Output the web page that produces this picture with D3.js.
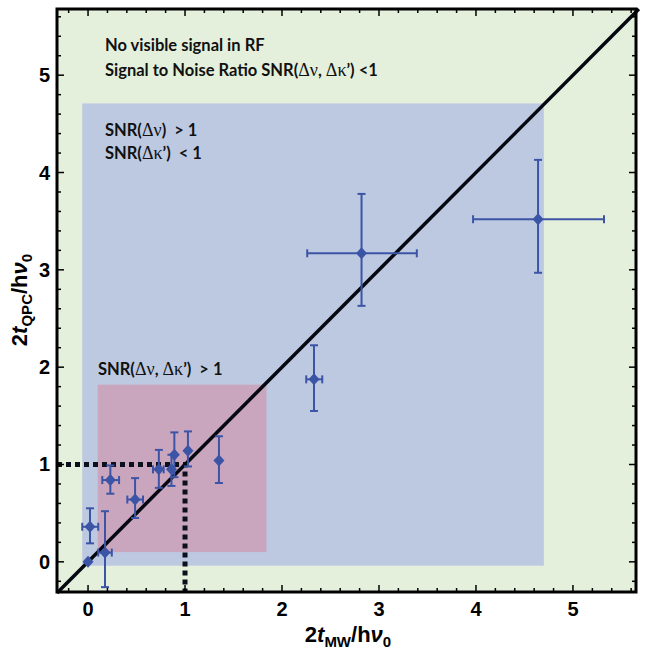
<!DOCTYPE html>
<html>
<head>
<meta charset="utf-8">
<script src="https://cdn.jsdelivr.net/npm/d3@7"></script>
<style>
  body { margin: 0; background: #fff; }
  svg text { font-family: "Liberation Sans", Arial, sans-serif; }
  .note { font-family: Lato, "Open Sans", sans-serif; font-weight: bold; font-size: 16.5px; fill: #111; }
  .greek { font-family: "Liberation Serif", "DejaVu Serif", serif; font-weight: normal; font-size: 18px; }
</style>
</head>
<body>
<svg id="chart" width="645" height="654"></svg>
<script>
// measured points (x = 2t_MW/hv0, y = 2t_QPC/hv0) with error bar ends
const xs  = [0.0, 0.02, 0.175, 0.23, 0.485, 0.73, 0.86, 0.89, 1.03, 1.35, 2.33, 2.82, 4.64];
const ys  = [0.0, 0.36, 0.095, 0.84, 0.64, 0.95, 0.95, 1.10, 1.14, 1.04, 1.875, 3.17, 3.52];
const yLo = [null, 0.19, -0.26, 0.70, 0.45, 0.76, 0.78, 0.87, 0.98, 0.81, 1.55, 2.63, 2.97];
const yHi = [null, 0.55, 0.52, 0.99, 0.86, 1.15, 1.10, 1.33, 1.34, 1.29, 2.225, 3.78, 4.13];
const xLo = [null, -0.06, 0.105, 0.147, 0.405, 0.67, null, null, null, null, 2.25, 2.26, 3.97];
const xHi = [null, 0.105, 0.245, 0.32, 0.567, 0.78, null, null, null, null, 2.415, 3.39, 5.32];

const tickVals = [0, 1, 2, 3, 4, 5];
// regions: [x0, x1, y0, y1]
const greenRegion = [-0.32, 5.65, -0.31, 5.68];
const blueRegion = [-0.06, 4.7, -0.04, 4.71];
const pinkRegion = [0.1, 1.84, 0.1, 1.82];
const threshold = 1;

const svg = d3.select("#chart");
const margin = { left: 57, right: 9, top: 9, bottom: 62 };
const W = 645, H = 654;

const x = d3.scaleLinear().domain([-0.32, 5.65]).range([margin.left, W - margin.right]);
const y = d3.scaleLinear().domain([-0.31, 5.68]).range([H - margin.bottom, margin.top]);

const rect = (r, fill) => svg.append("rect")
  .attr("x", x(r[0])).attr("y", y(r[3]))
  .attr("width", x(r[1]) - x(r[0])).attr("height", y(r[2]) - y(r[3]))
  .attr("fill", fill);

rect(greenRegion, "#e5f0dc");
rect(blueRegion, "#bdc9e1");
rect(pinkRegion, "#c9a6be");

// texts
const notes = [
  { x: 105, y: 51, t: "No visible signal in RF" },
  { x: 105, y: 76, t: "Signal to Noise Ratio SNR(\u0394\u03bd, \u0394\u03ba\u2019) <1" },
  { x: 105, y: 136, t: "SNR(\u0394\u03bd)  > 1" },
  { x: 105, y: 159, t: "SNR(\u0394\u03ba\u2019)  < 1" },
  { x: 98, y: 375, t: "SNR(\u0394\u03bd, \u0394\u03ba\u2019)  > 1" }
];
notes.forEach(n => {
  const t = svg.append("text").attr("class", "note")
    .attr("x", n.x).attr("y", n.y).attr("xml:space", "preserve");
  // greek letters are set in a serif face, like the math font of the original
  n.t.split(/([\u0394\u03bd\u03ba]+)/).filter(s => s.length).forEach(s => {
    const sp = t.append("tspan").text(s);
    if (/[\u0394\u03bd\u03ba]/.test(s)) sp.attr("class", "greek");
  });
});

// dashed threshold lines
svg.append("path")
  .attr("d", `M${x(-0.32)},${y(threshold)}H${x(threshold)}V${y(-0.31)}`)
  .attr("fill", "none")
  .attr("stroke", "#0c0f1c")
  .attr("stroke-width", 5)
  .attr("stroke-dasharray", "5,4");

// diagonal y = x
svg.append("line")
  .attr("x1", x(-0.32)).attr("y1", y(-0.32))
  .attr("x2", x(5.68)).attr("y2", y(5.68))
  .attr("stroke", "#050810").attr("stroke-width", 3.5);

// error bars
const col = "#3c54a5";
const idx = d3.range(xs.length);
const g = svg.append("g").attr("stroke", col).attr("stroke-width", 2).attr("fill", "none");
const cap = 4;
idx.forEach(i => {
  if (yLo[i] !== null) {
    g.append("line").attr("x1", x(xs[i])).attr("x2", x(xs[i])).attr("y1", y(yLo[i])).attr("y2", y(yHi[i]));
    [yLo[i], yHi[i]].forEach(v => g.append("line")
      .attr("x1", x(xs[i]) - cap).attr("x2", x(xs[i]) + cap).attr("y1", y(v)).attr("y2", y(v)));
  }
  if (xLo[i] !== null) {
    g.append("line").attr("y1", y(ys[i])).attr("y2", y(ys[i])).attr("x1", x(xLo[i])).attr("x2", x(xHi[i]));
    [xLo[i], xHi[i]].forEach(v => g.append("line")
      .attr("y1", y(ys[i]) - cap).attr("y2", y(ys[i]) + cap).attr("x1", x(v)).attr("x2", x(v)));
  }
});

// diamonds
svg.selectAll("path.pt").data(idx).join("path")
  .attr("class", "pt")
  .attr("transform", i => `translate(${x(xs[i])},${y(ys[i])})`)
  .attr("d", "M0,-6L5.5,0L0,6L-5.5,0Z")
  .attr("fill", col);

// axes: inward ticks on all sides
const minor = d3.range(-0.2, 5.61, 0.2).map(v => +v.toFixed(1)).filter(v => Math.abs(v - Math.round(v)) > 0.01);
const ax = svg.append("g").attr("stroke", "#000").attr("stroke-width", 1.5);
const x0 = x.range()[0], x1 = x.range()[1], y0 = y.range()[0], y1 = y.range()[1];
tickVals.concat(minor).forEach(v => {
  const len = tickVals.includes(v) ? 7 : 4;
  ax.append("line").attr("x1", x(v)).attr("x2", x(v)).attr("y1", y0).attr("y2", y0 - len);
  ax.append("line").attr("x1", x(v)).attr("x2", x(v)).attr("y1", y1).attr("y2", y1 + len);
  ax.append("line").attr("y1", y(v)).attr("y2", y(v)).attr("x1", x0).attr("x2", x0 + len);
  ax.append("line").attr("y1", y(v)).attr("y2", y(v)).attr("x1", x1).attr("x2", x1 - len);
});

svg.append("rect")
  .attr("x", x0).attr("y", y1).attr("width", x1 - x0).attr("height", y0 - y1)
  .attr("fill", "none").attr("stroke", "#000").attr("stroke-width", 3);

svg.selectAll("text.xt").data(tickVals).join("text")
  .attr("class", "xt")
  .attr("x", d => x(d)).attr("y", 616)
  .attr("text-anchor", "middle")
  .attr("font-weight", "bold").attr("font-size", 20)
  .text(d => d);

svg.selectAll("text.yt").data(tickVals).join("text")
  .attr("class", "yt")
  .attr("x", 50).attr("y", d => y(d) + 7)
  .attr("text-anchor", "end")
  .attr("font-weight", "bold").attr("font-size", 20)
  .text(d => d);

// axis titles
function title(sel, sub) {
  sel.attr("font-weight", "bold").attr("font-size", 22).attr("text-anchor", "middle");
  sel.append("tspan").text("2");
  sel.append("tspan").attr("font-style", "italic").text("t");
  sel.append("tspan").attr("font-size", 15).attr("dy", 5).text(sub);
  sel.append("tspan").attr("dy", -5).text("/h");
  sel.append("tspan").attr("font-style", "italic").text("\u03bd");
  sel.append("tspan").attr("font-size", 15).attr("dy", 5).text("0");
}
title(svg.append("text").attr("x", 348).attr("y", 642), "MW");
title(svg.append("text").attr("transform", "translate(27,300) rotate(-90)"), "QPC");
</script>
</body>
</html>
